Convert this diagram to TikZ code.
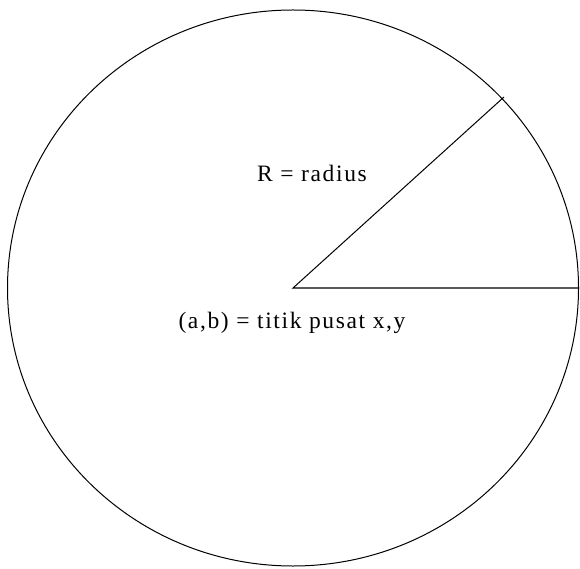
\documentclass[tikz,border=0pt]{standalone}
\usepackage{fontspec}
\setmainfont{Liberation Serif}[LetterSpace=7]
\begin{document}
\begin{tikzpicture}[
    x=1pt, y=1pt,
    rim/.style={line width=1pt},
    caption/.style={anchor=base, inner sep=0pt, font=\fontsize{23.5}{28}\selectfont}
]
\useasboundingbox (0,0) rectangle (580,568);

% Circle
\coordinate (pusat) at (293,280);
\draw[rim] (pusat) ellipse [x radius=285.5, y radius=278];

% Radius lines
\coordinate (tepi) at (504,471);
\coordinate (kanan) at (579,280);
\draw[rim] (tepi) -- (pusat) -- (kanan);

% Labels
\node[caption] (jari) at (312,386) {R = radius};
\node[caption] (titik) at (292,240) {(a,b) = titik pusat x,y};
\end{tikzpicture}
\end{document}
